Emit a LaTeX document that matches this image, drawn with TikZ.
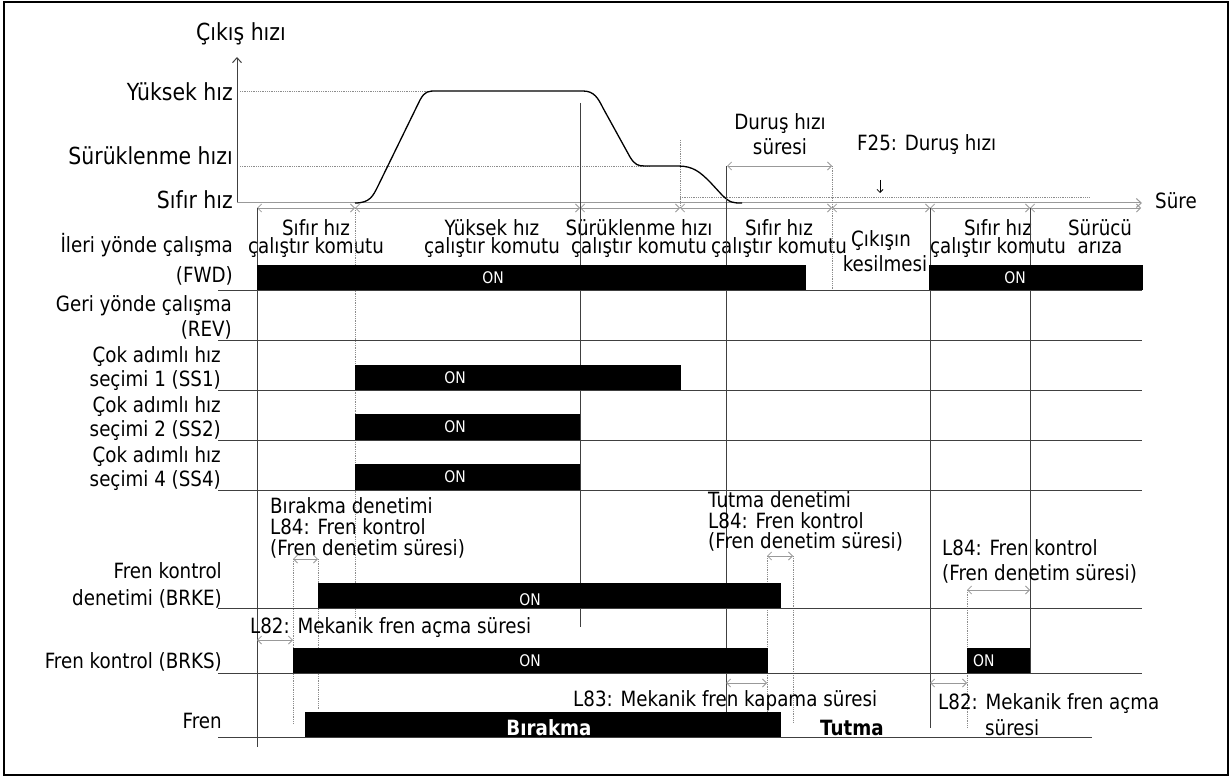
\documentclass[tikz,border=0pt]{standalone}
\usepackage{fontspec}
\setmainfont{DejaVu Sans}[FakeStretch=0.87]
\usetikzlibrary{arrows.meta}
\definecolor{lncol}{gray}{0.25}
\definecolor{dotcol}{gray}{0.55}
\definecolor{arrcol}{gray}{0.6}
\begin{document}
\begin{tikzpicture}[x=1pt,y=-1pt,
  txt/.style={inner sep=0pt, font=\fontsize{21}{21}\selectfont, anchor=base},
  txtl/.style={txt, anchor=base west},
  txtr/.style={txt, anchor=base east},
  two/.style={inner sep=0pt, font=\fontsize{21}{18}\selectfont, align=center, anchor=base},
  big/.style={inner sep=0pt, font=\fontsize{23.5}{23.5}\selectfont, anchor=base east},
  onlbl/.style={inner sep=0pt, text=white, font=\fontsize{16}{16}\selectfont},
  bar/.style={fill=black, draw=none},
  rowline/.style={draw=lncol, line width=1pt},
  vline/.style={draw=lncol, line width=1pt},
  dotline/.style={draw=dotcol, line width=0.8pt, densely dotted},
  dim/.style={draw=arrcol, line width=0.8pt, {Straight Barb[length=4pt,width=8pt]}-{Straight Barb[length=4pt,width=8pt]}},
  curve/.style={draw=black, line width=1.3pt}
]
\useasboundingbox (0,0) rectangle (1231,778);
\draw[line width=2pt] (4,2) rectangle (1228,775);

% ---------- speed diagram ----------
\coordinate (yaxT) at (237,57);
\coordinate (orig) at (237,203);
\coordinate (taxE) at (1142,203);
\draw[lncol, line width=1pt, -{Straight Barb[length=5pt,width=9pt]}] (orig) -- (yaxT);
\draw[arrcol, line width=1pt, -{Straight Barb[length=5pt,width=9pt]}] (orig) -- (taxE);
\draw[dotline] (240,91) -- (430,91);
\draw[dotline] (240,166) -- (650,166);
\draw[dotline] (680,197) -- (1090,197);
\draw[dotline] (680,140) -- (680,208);

\draw[curve] (355,203) .. controls (370,203) and (373,196) .. (378,186) -- (420,100)
  .. controls (425,91) and (428,91) .. (437,91) -- (583,91)
  .. controls (594,91) and (598,98) .. (603,108) -- (630,157)
  .. controls (635,165) and (638,166) .. (645,166) -- (678,166)
  .. controls (693,166) and (700,172) .. (710,182) -- (722,195)
  .. controls (730,203) and (733,203) .. (742,203);

\node[txt, anchor=base, font=\fontsize{23.5}{23.5}\selectfont] (ycap) at (241,41) {Çıkış hızı};
\node[big] (yhigh) at (233,101) {Yüksek hız};
\node[big] (ycreep) at (233,165) {Sürüklenme hızı};
\node[big] (yzero) at (233,208) {Sıfır hız};
\node[txtl] (tlab) at (1155,208) {Süre};

% interval chain
\coordinate (i0) at (257,208);
\coordinate (i1) at (355,208);
\coordinate (i2) at (580,208);
\coordinate (i3) at (680,208);
\coordinate (i4) at (832,208);
\coordinate (i5) at (930,208);
\coordinate (i6) at (1030,208);
\coordinate (i7) at (1141,208);
\foreach \a/\b in {i0/i1,i1/i2,i2/i3,i3/i4,i4/i5,i5/i6,i6/i7} \draw[dim] (\a) -- (\b);

% stop speed time
\coordinate (d0) at (727,166);
\coordinate (d1) at (832,166);
\draw[dim] (d0) -- (d1);
\node[txt] (dur1) at (780,130) {Duruş hızı};
\node[txt] (dur2) at (780,155) {süresi};
\node[txtl] (f25) at (857,151) {F25: Duruş hızı};
\coordinate (f25a) at (880,180);
\coordinate (f25b) at (880,193);
\draw[black, line width=0.8pt, -{Straight Barb[length=3pt,width=6pt]}] (f25a) -- (f25b);

% interval labels (anchor = baseline of last line)
\node[two] (s1) at (316,253) {Sıfır hız\\çalıştır komutu};
\node[two] (s2) at (492,253) {Yüksek hız\\çalıştır komutu};
\node[two] (s3) at (639,253) {Sürüklenme hızı\\çalıştır komutu};
\node[two] (s4) at (779,253) {Sıfır hız\\çalıştır komutu};
\node[txt] (s5a) at (881,246) {Çıkışın};
\node[txt] (s5b) at (885,271) {kesilmesi};
\node[two] (s6) at (998,253) {Sıfır hız\\çalıştır komutu};
\node[two] (s7) at (1100,253) {Sürücü\\arıza};

% ---------- vertical lines ----------
\draw[vline] (257,208) -- (257,747);
\draw[dotline] (355,208) -- (355,617);
\draw[vline] (580,103) -- (580,627);
\draw[vline] (726,166) -- (726,713);
\draw[dotline] (832,166) -- (832,290);
\draw[vline] (930,208) -- (930,728);
\draw[vline] (1030,208) -- (1030,673);
\draw[dotline] (293,559) -- (293,723);
\draw[dotline] (318,559) -- (318,710);
\draw[dotline] (767,556) -- (767,720);
\draw[dotline] (793,556) -- (793,722);
\draw[dotline] (967,590) -- (967,728);

% ---------- row lines ----------
\foreach \y in {290,340,390,440,490,608,673} \draw[rowline] (218,\y) -- (1142,\y);
\draw[rowline] (218,737) -- (1092,737);

% ---------- bars ----------
\path[bar] (257,265) rectangle (806,290);
\path[bar] (929,265) rectangle (1143,290);
\path[bar] (355,365) rectangle (681,390);
\path[bar] (355,414) rectangle (580,440);
\path[bar] (355,464) rectangle (580,490);
\path[bar] (318,583) rectangle (781,608);
\path[bar] (293,648) rectangle (768,673);
\path[bar] (967,648) rectangle (1030,673);
\path[bar] (305,712) rectangle (781,737);
\node[onlbl] (on1) at (493,278) {ON};
\node[onlbl] (on2) at (1015,278) {ON};
\node[onlbl] (on3) at (455,378) {ON};
\node[onlbl] (on4) at (455,427) {ON};
\node[onlbl] (on5) at (455,477) {ON};
\node[onlbl] (on6) at (530,600) {ON};
\node[onlbl] (on7) at (530,661) {ON};
\node[onlbl, anchor=west] (on8) at (973,661) {ON};
\node[txt, text=white, font=\bfseries\fontsize{21}{21}\selectfont] (bir) at (549,735) {Bırakma};
\node[txt, font=\bfseries\fontsize{21}{21}\selectfont] (tut) at (852,735) {Tutma};

% ---------- row labels ----------
\node[txtr] (r1a) at (233,252) {İleri yönde çalışma};
\node[txtr] (r1b) at (233,282) {(FWD)};
\node[txtr] (r2a) at (232,311) {Geri yönde çalışma};
\node[txtr] (r2b) at (232,336) {(REV)};
\node[txtr] (r3a) at (221,362) {Çok adımlı hız};
\node[txtr] (r3b) at (221,386) {seçimi 1 (SS1)};
\node[txtr] (r4a) at (221,412) {Çok adımlı hız};
\node[txtr] (r4b) at (221,436) {seçimi 2 (SS2)};
\node[txtr] (r5a) at (221,462) {Çok adımlı hız};
\node[txtr] (r5b) at (221,486) {seçimi 4 (SS4)};
\node[txtr] (r6a) at (222,578) {Fren kontrol};
\node[txtr] (r6b) at (222,605) {denetimi (BRKE)};
\node[txtr] (r7) at (222,668) {Fren kontrol (BRKS)};
\node[txtr] (r8) at (222,728) {Fren};

% ---------- annotations ----------
\node[txtl] (a1) at (270,513) {Bırakma denetimi};
\node[txtl] (a2) at (270,534) {L84: Fren kontrol};
\node[txtl] (a3) at (270,555) {(Fren denetim süresi)};
\node[txtl] (b1) at (708,507) {Tutma denetimi};
\node[txtl] (b2) at (708,528) {L84: Fren kontrol};
\node[txtl] (b3) at (708,548) {(Fren denetim süresi)};
\node[txtl] (c1) at (942,555) {L84: Fren kontrol};
\node[txtl] (c2) at (942,580) {(Fren denetim süresi)};
\node[txtl] (l82a) at (250,633) {L82: Mekanik fren açma süresi};
\node[txtl] (l83) at (573,706) {L83: Mekanik fren kapama süresi};
\node[txtl] (l82b) at (938,709) {L82: Mekanik fren açma};
\node[txtl] (l82c) at (985,735) {süresi};

% small dimension arrows
\coordinate (p1) at (293,559); \coordinate (p2) at (318,559);
\coordinate (p3) at (257,640); \coordinate (p4) at (293,640);
\coordinate (p5) at (767,556); \coordinate (p6) at (793,556);
\coordinate (p7) at (726,683); \coordinate (p8) at (767,683);
\coordinate (p9) at (967,590); \coordinate (p10) at (1030,590);
\coordinate (p11) at (930,683); \coordinate (p12) at (967,683);
\draw[dim] (p1) -- (p2);
\draw[dim] (p3) -- (p4);
\draw[dim] (p5) -- (p6);
\draw[dim] (p7) -- (p8);
\draw[dim] (p9) -- (p10);
\draw[dim] (p11) -- (p12);
\end{tikzpicture}
\end{document}
